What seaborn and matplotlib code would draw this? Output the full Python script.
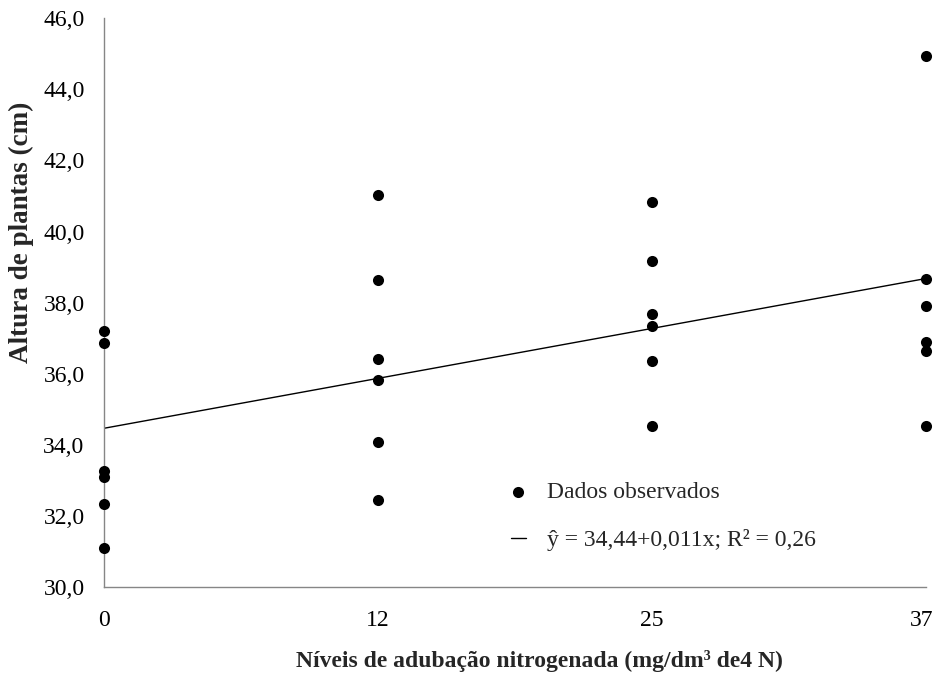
import matplotlib
matplotlib.use("Agg")
import matplotlib.pyplot as plt
import matplotlib.transforms as mtransforms
import seaborn as sns
import pandas as pd
from matplotlib.ticker import FuncFormatter, FixedLocator

# ---- data ----
niveis = ["0", "12", "25", "37"]
alt_0 = [37.20, 36.86, 33.28, 33.09, 32.34, 31.10]
alt_12 = [41.02, 38.63, 36.43, 35.82, 34.09, 32.46]
alt_25 = [40.82, 39.17, 37.68, 37.34, 36.35, 34.53]
alt_37 = [44.94, 38.68, 37.92, 36.90, 36.64, 34.54]
trend_pos = [0, 3]
trend_y = [34.47, 38.68]
y_ticks = [30, 32, 34, 36, 38, 40, 42, 44, 46]
legend_points = "Dados observados"
legend_line = "ŷ = 34,44+0,011x; R² = 0,26"
xlabel = "Níveis de adubação nitrogenada (mg/dm³ de4 N)"
ylabel = "Altura de plantas (cm)"

rows = []
for lvl, vals in zip(niveis, [alt_0, alt_12, alt_25, alt_37]):
    for v in vals:
        rows.append({"nivel": lvl, "altura": v})
df = pd.DataFrame(rows)
df_trend = pd.DataFrame({"pos": trend_pos, "y": trend_y})

sns.set_style("white")
plt.rcParams["font.family"] = ["Liberation Serif", "DejaVu Serif"]

W, H = 935, 677
fig = plt.figure(figsize=(W / 100, H / 100), dpi=100)
ax = fig.add_axes([104 / W, 1 - 587.3 / H, (926 - 104) / W, (587.3 - 18.1) / H])

sns.stripplot(data=df, x="nivel", y="altura", order=niveis, jitter=False,
              color="black", size=8, linewidth=0, ax=ax, clip_on=False,
              zorder=5, label=legend_points)
sns.lineplot(data=df_trend, x="pos", y="y", color="black", linewidth=1.0,
             ax=ax, label=legend_line)

ax.set_xlim(0, 3)
ax.set_ylim(30, 46)
ax.yaxis.set_major_locator(FixedLocator(y_ticks))
ax.yaxis.set_major_formatter(FuncFormatter(lambda v, p: f"{v:.1f}".replace(".", ",")))

gray = "#868686"
for side in ["top", "right"]:
    ax.spines[side].set_visible(False)
for side in ["left", "bottom"]:
    ax.spines[side].set_color(gray)
    ax.spines[side].set_linewidth(1.0)
ax.tick_params(axis="both", direction="out", length=5, width=1.0, color=gray,
               labelsize=17, labelcolor="black")
ax.tick_params(axis="y", pad=9)
ax.tick_params(axis="x", pad=11)
ax.grid(False)

# keep the last x tick label inside the canvas
fig.canvas.draw()
last = ax.get_xticklabels()[-1]
last.set_transform(last.get_transform() +
                   mtransforms.ScaledTranslation(-4 / 100, 0, fig.dpi_scale_trans))

ax.set_xlabel(xlabel, fontsize=17, fontweight="bold")
ax.set_ylabel(ylabel, fontsize=19.5, fontweight="bold")
ax.xaxis.set_label_coords((539 - 104) / 822, (587.3 - 650) / 569.2)
ax.yaxis.set_label_coords((34 - 104) / 822, (587.3 - 232) / 569.2)

# legend: keep one handle per entry
handles, labels = ax.get_legend_handles_labels()
seen = {}
for h, l in zip(handles, labels):
    if l not in seen:
        seen[l] = h
leg = ax.legend([seen[legend_points], seen[legend_line]], [legend_points, legend_line],
                loc="upper left", bbox_to_anchor=(494 / W, 1 - 465 / H),
                bbox_transform=fig.transFigure, frameon=False, fontsize=17,
                handlelength=0.65, handletextpad=0.9, labelspacing=1.1,
                borderpad=0.2)

fig.savefig("out.png", dpi=100)
